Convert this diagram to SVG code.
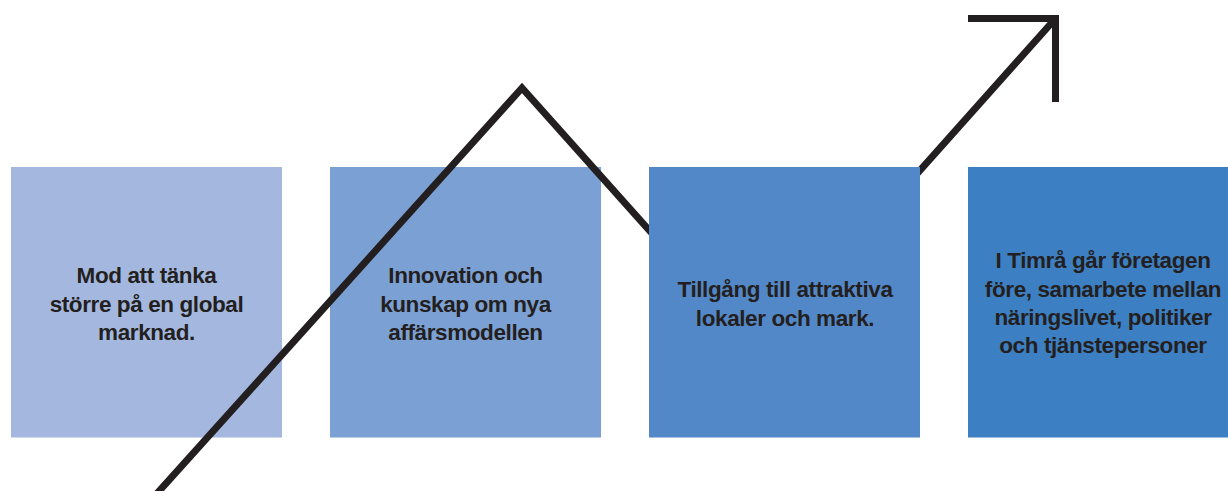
<svg xmlns="http://www.w3.org/2000/svg" width="1228" height="491" viewBox="0 0 1228 491">
  <style>
    .lbl { font-family: "Liberation Sans", Arial, sans-serif; font-weight: bold; font-size: 22.5px; letter-spacing: -0.4px; fill: #231F20; text-anchor: middle; }
    .conn { fill: none; stroke: #231F20; stroke-width: 7; stroke-linejoin: miter; stroke-miterlimit: 10; stroke-linecap: butt; }
  </style>
  <rect width="1228" height="491" fill="#FFFFFF"/>
  <g id="node1">
    <rect x="11" y="167" width="271" height="270.5" fill="#A4B8DF"/>
    <text class="lbl" x="146.5" y="283">Mod att tänka</text>
    <text class="lbl" x="146.5" y="311.5">större på en global</text>
    <text class="lbl" x="146.5" y="340">marknad.</text>
  </g>
  <g id="node2">
    <rect x="330" y="167" width="271" height="270.5" fill="#7BA0D3"/>
    <text class="lbl" x="465.5" y="283">Innovation och</text>
    <text class="lbl" x="465.5" y="311.5">kunskap om nya</text>
    <text class="lbl" x="465.5" y="340">affärsmodellen</text>
  </g>
  <g id="connectors">
    <path class="conn" d="M152,499 L522,88 L758,352 L1055.5,18.5"/>
    <path class="conn" d="M968,18.5 L1055.5,18.5 L1055.5,102"/>
  </g>
  <g id="node3">
    <rect x="649" y="167" width="271" height="270.5" fill="#5388C8"/>
    <text class="lbl" x="785" y="297">Tillgång till attraktiva</text>
    <text class="lbl" x="785" y="326">lokaler och mark.</text>
  </g>
  <g id="node4">
    <rect x="968" y="167" width="271" height="270.5" fill="#3D7FC3"/>
    <text class="lbl" x="1103" y="268">I Timrå går företagen</text>
    <text class="lbl" x="1103" y="296.5">före, samarbete mellan</text>
    <text class="lbl" x="1103" y="325">näringslivet, politiker</text>
    <text class="lbl" x="1103" y="353">och tjänstepersoner</text>
  </g>
</svg>
